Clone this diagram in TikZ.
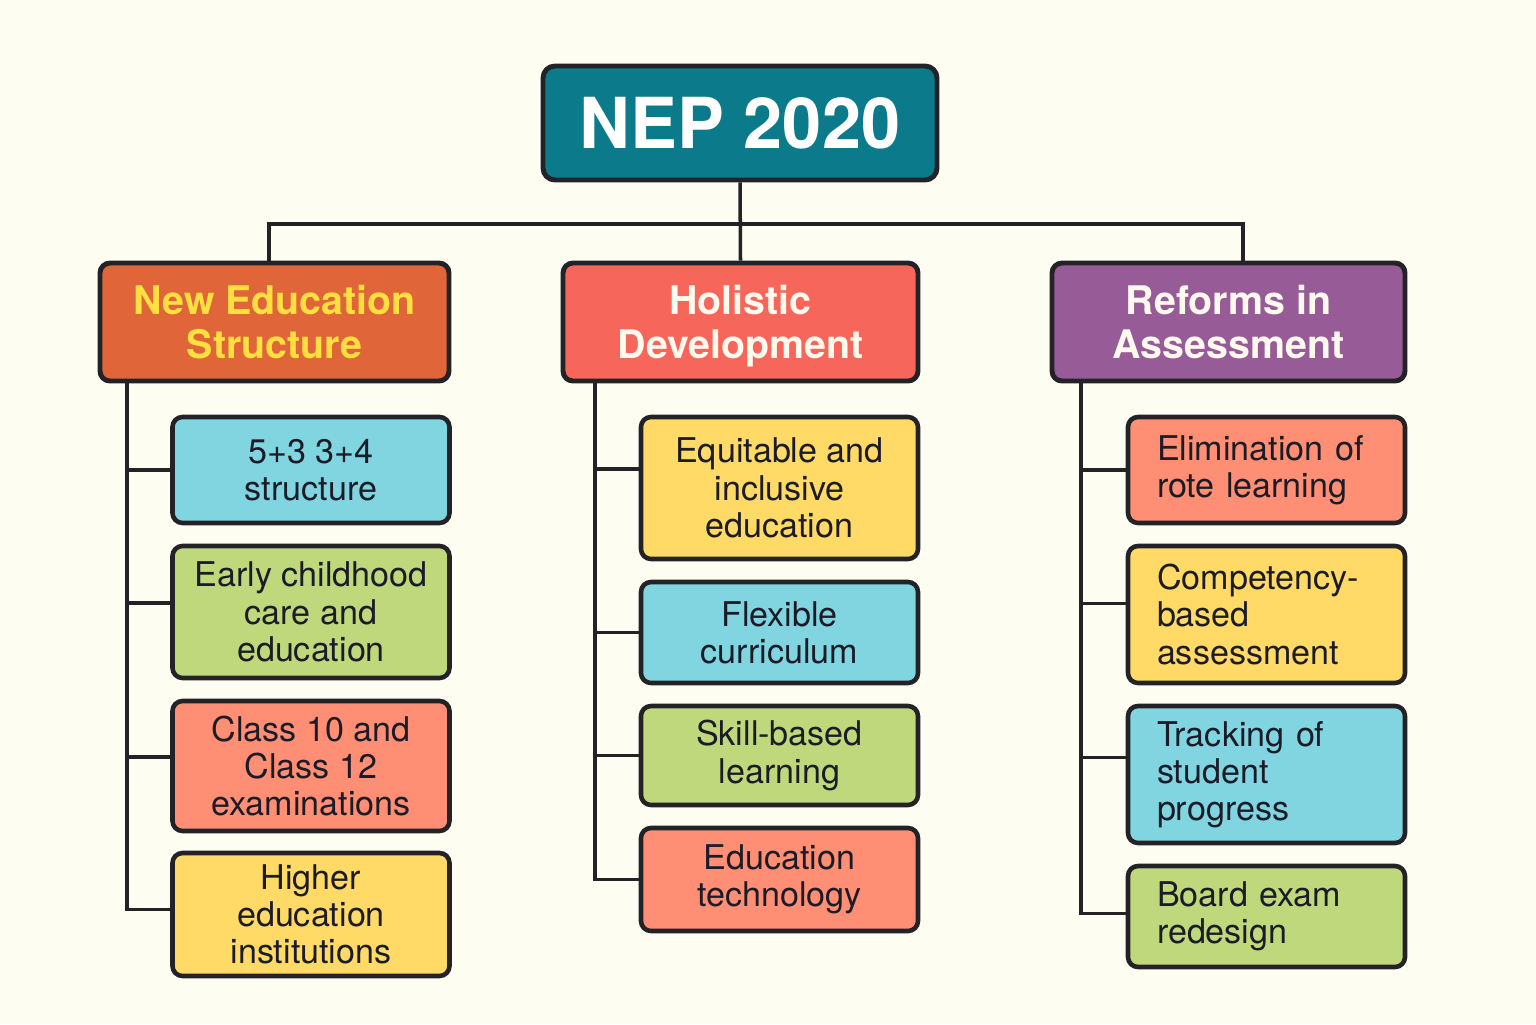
\documentclass[tikz,border=0pt]{standalone}
\usepackage{fontspec}
\setmainfont{TeX Gyre Heros}
\usepackage{xcolor}
\usepackage{tikz}
\usetikzlibrary{positioning}

\definecolor{paper}{HTML}{FEFDF2}
\definecolor{ink}{HTML}{232327}
\definecolor{itemink}{HTML}{1C1C28}
\definecolor{nepteal}{HTML}{0B7A8A}
\definecolor{headorange}{HTML}{E0663A}
\definecolor{headyellow}{HTML}{FFE040}
\definecolor{headred}{HTML}{F7665A}
\definecolor{headpurple}{HTML}{975B98}
\definecolor{headwhite}{HTML}{FFF9EE}
\definecolor{cardblue}{HTML}{80D5E0}
\definecolor{cardgreen}{HTML}{C0D87C}
\definecolor{cardsalmon}{HTML}{FF8F74}
\definecolor{cardyellow}{HTML}{FFDA66}

\tikzstyle{rootbox} = [rectangle, rounded corners=0.12cm, draw=ink, line width=1.4pt, fill=nepteal, text=white, font=\fontsize{20}{24}\selectfont\bfseries, minimum width=3.94cm, minimum height=1.14cm, inner sep=0pt]
\tikzstyle{headbox} = [rectangle, rounded corners=0.1cm, draw=ink, line width=1.4pt, minimum height=1.18cm, inner sep=0pt, align=center, text depth=0pt, text=headwhite, font=\fontsize{11.2}{12.5}\selectfont\bfseries]
\tikzstyle{itembox} = [rectangle, rounded corners=0.1cm, draw=ink, line width=1.3pt, minimum width=2.77cm, inner sep=0pt, align=center, text=itemink, font=\fontsize{9.7}{10.6}\selectfont]
\tikzstyle{leftitem} = [itembox, align=left, text width=2.19cm, inner xsep=0.29cm]
\tikzstyle{link} = [draw=ink, line width=1pt]

\begin{document}
\begin{tikzpicture}

\fill [paper] (0,0) rectangle (15.36,-10.24);

\node (title) [rootbox] at (7.40,-1.23) {NEP 2020};

\node (hdrA) [headbox, fill=headorange, text=headyellow, minimum width=3.49cm] at (2.745,-3.22) {New Education\\Structure};
\node (hdrB) [headbox, fill=headred, minimum width=3.55cm] at (7.405,-3.22) {Holistic\\Development};
\node (hdrC) [headbox, fill=headpurple, minimum width=3.53cm] at (12.285,-3.22) {Reforms in\\Assessment};

\node (a1) [itembox, fill=cardblue, minimum height=1.06cm] at (3.11,-4.70) {5+3 3+4\\structure};
\node (a2) [itembox, fill=cardgreen, minimum height=1.32cm] at (3.11,-6.12) {Early childhood\\care and\\education};
\node (a3) [itembox, fill=cardsalmon, minimum height=1.30cm] at (3.11,-7.66) {Class 10 and\\Class 12\\examinations};
\node (a4) [itembox, fill=cardyellow, minimum height=1.23cm] at (3.11,-9.145) {Higher\\education\\institutions};

\node (b1) [itembox, fill=cardyellow, minimum height=1.42cm] at (7.795,-4.88) {Equitable and\\inclusive\\education};
\node (b2) [itembox, fill=cardblue, minimum height=1.01cm] at (7.795,-6.325) {Flexible\\curriculum};
\node (b3) [itembox, fill=cardgreen, minimum height=0.99cm] at (7.795,-7.555) {Skill-based\\learning};
\node (b4) [itembox, fill=cardsalmon, minimum height=1.03cm] at (7.795,-8.795) {Education\\technology};

\node (c1) [leftitem, fill=cardsalmon, minimum height=1.06cm] at (12.665,-4.70) {Elimination of\\rote learning};
\node (c2) [leftitem, fill=cardyellow, minimum height=1.37cm] at (12.665,-6.145) {Competency-\\based\\assessment};
\node (c3) [leftitem, fill=cardblue, minimum height=1.37cm] at (12.665,-7.745) {Tracking of\\student\\progress};
\node (c4) [leftitem, fill=cardgreen, minimum height=1.01cm] at (12.665,-9.165) {Board exam\\redesign};

% top bus
\coordinate (bus) at (7.40,-2.24);
\draw [link] (title.south) -- (hdrB.north);
\draw [link] (bus) -| ([xshift=-0.055cm]hdrA.north);
\draw [link] (bus) -| ([xshift=0.145cm]hdrC.north);

% column spines
\coordinate (sA) at (1.27,-3.81);
\coordinate (sB) at (5.95,-3.81);
\coordinate (sC) at (10.81,-3.81);

\draw [link] (sA) |- (a1.west);
\draw [link] (sA) |- ([yshift=0.09cm]a2.west);
\draw [link] (sA) |- ([yshift=0.09cm]a3.west);
\draw [link] (sA) |- ([yshift=0.05cm]a4.west);

\draw [link] (sB) |- ([yshift=0.19cm]b1.west);
\draw [link] (sB) |- (b2.west);
\draw [link] (sB) |- (b3.west);
\draw [link] (sB) |- (b4.west);

\draw [link] (sC) |- (c1.west);
\draw [link] (sC) |- ([yshift=0.11cm]c2.west);
\draw [link] (sC) |- ([yshift=0.17cm]c3.west);
\draw [link] (sC) |- ([yshift=0.03cm]c4.west);

\end{tikzpicture}
\end{document}
